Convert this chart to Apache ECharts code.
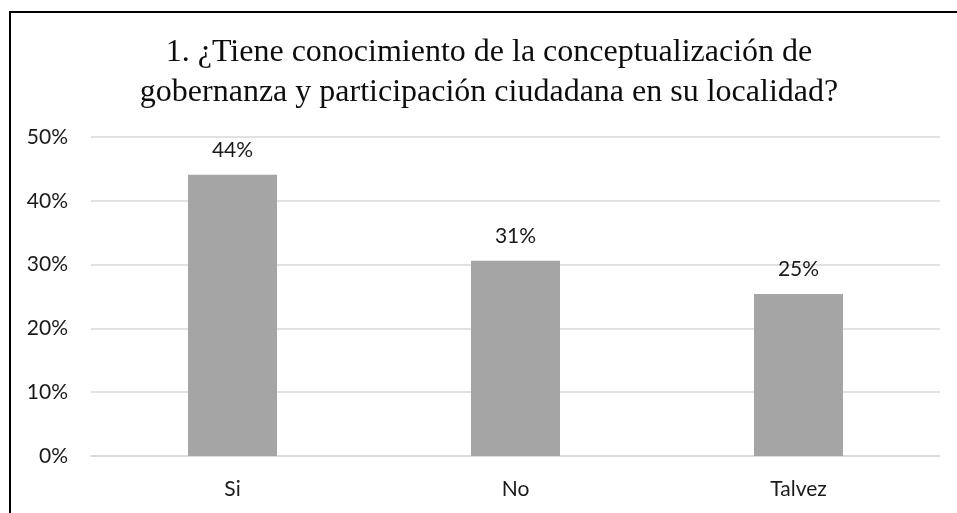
<!DOCTYPE html>
<html>
<head>
<meta charset="utf-8">
<script src="https://cdn.jsdelivr.net/npm/echarts@6/dist/echarts.min.js"></script>
<style>
  html, body { margin: 0; padding: 0; background: #fff; }
  #chart { width: 957px; height: 513px; }
</style>
</head>
<body>
<div id="chart"></div>
<script>
// datos
const CATEGORIES = ['Si', 'No', 'Talvez'];
const VALUES = [0.441, 0.306, 0.254];
const TICKS = [0, 0.1, 0.2, 0.3, 0.4, 0.5];

const TITLE = '1. ¿Tiene conocimiento de la conceptualización de\ngobernanza y participación ciudadana en su localidad?';
const LABEL_FONT = 'Lato, "Open Sans", sans-serif';

const chart = echarts.init(document.getElementById('chart'));

let option = {
  backgroundColor: '#fff',
  animation: false,
  title: {
    text: TITLE,
    left: 484,
    top: 28,
    textAlign: 'center',
    textStyle: {
      fontFamily: '"Liberation Serif", "Times New Roman", serif',
      fontSize: 32,
      fontWeight: 'normal',
      color: '#0d0d0d',
      lineHeight: 40
    }
  },
  // marco del grafico
  graphic: [{
    type: 'polyline',
    shape: { points: [[10, 513], [10, 12], [957, 12]] },
    style: { stroke: '#000', lineWidth: 2, fill: null }
  }],
  grid: {
    left: 91,
    right: 17,
    top: 137,
    bottom: 57
  },
  xAxis: {
    type: 'category',
    data: CATEGORIES,
    axisTick: { show: false },
    axisLine: { lineStyle: { color: '#d9d9d9', width: 1.5 } },
    axisLabel: {
      margin: 23,
      fontFamily: LABEL_FONT,
      fontSize: 21,
      color: '#1a1a1a'
    }
  },
  yAxis: {
    type: 'value',
    min: TICKS[0],
    max: TICKS[TICKS.length - 1],
    interval: 0.1,
    axisLine: { show: false },
    axisTick: { show: false },
    splitLine: { lineStyle: { color: '#d9d9d9', width: 1.5 } },
    axisLabel: {
      margin: 23,
      fontFamily: LABEL_FONT,
      fontSize: 21,
      color: '#1a1a1a',
      formatter: v => Math.round(v * 100) + '%'
    }
  },
  series: [{
    type: 'bar',
    data: VALUES,
    barWidth: 89,
    itemStyle: { color: '#a5a5a5' },
    label: {
      show: true,
      position: 'top',
      distance: 14,
      fontFamily: LABEL_FONT,
      fontSize: 21,
      color: '#1a1a1a',
      formatter: p => Math.round(p.value * 100) + '%'
    }
  }]
};

chart.setOption(option);
</script>
</body>
</html>
